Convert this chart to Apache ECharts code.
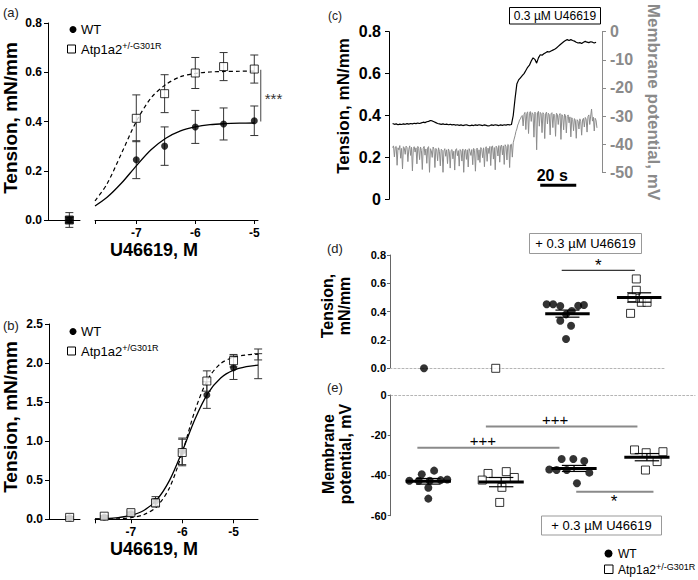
<!DOCTYPE html>
<html><head><meta charset="utf-8">
<script src="https://cdn.jsdelivr.net/npm/echarts@6/dist/echarts.min.js"></script>
<style>html,body{margin:0;padding:0;background:#fff}#chart{width:698px;height:580px}</style>
</head><body><div id="chart"></div>
<script>
// ===================== DATA =====================
// Panel (a): low-dose dose–response (log M)
const aDoseLog = [-7, -6.52, -6, -5.52, -5];
const aWTMean  = [0.245, 0.30, 0.378, 0.39, 0.403];
const aWTErr   = [0.077, 0.078, 0.067, 0.065, 0.06];
const aMutMean = [0.413, 0.513, 0.597, 0.623, 0.613];
const aMutErr  = [0.095, 0.077, 0.063, 0.057, 0.057];
const aCtrlWT  = [0.0, 0.01];   // mean, error (no agonist)
const aCtrlMut = [0.0, 0.03];
const aFitX    = [-7.7, -7.5, -7.25, -7, -6.75, -6.5, -6.25, -6, -5.75, -5.5, -5.25, -5];
const aFitWT   = [0.057, 0.091, 0.150, 0.220, 0.285, 0.332, 0.362, 0.378, 0.387, 0.391, 0.393, 0.394];
const aFitMut  = [0.078, 0.145, 0.271, 0.40, 0.496, 0.55, 0.582, 0.595, 0.601, 0.603, 0.604, 0.605];
const aSig     = [-4.89, 0.61, 0.40, '***'];

// Panel (b): full dose–response
const bDoseLog = [-7.52, -7, -6.52, -6, -5.52, -5, -4.52];
const bWTMean  = [0.03, 0.07, 0.23, 0.87, 1.59, 1.94, 1.96];
const bWTErr   = [0.01, 0.02, 0.06, 0.17, 0.17, 0.15, 0.16];
const bMutMean = [0.04, 0.085, 0.21, 0.855, 1.77, 2.03, 2.11];
const bMutErr  = [0.01, 0.02, 0.05, 0.17, 0.13, 0.08, 0.07];
const bCtrlWT  = [0.02, 0.01];
const bCtrlMut = [0.025, 0.01];
const bFitX    = [-7.7, -7.5, -7.25, -7, -6.75, -6.5, -6.25, -6, -5.75, -5.5, -5.25, -5, -4.75, -4.52];
const bFitWT   = [0.005, 0.009, 0.022, 0.05, 0.113, 0.246, 0.495, 0.87, 1.285, 1.612, 1.809, 1.909, 1.955, 1.974];
const bFitMut  = [0.001, 0.003, 0.007, 0.021, 0.059, 0.16, 0.40, 0.85, 1.395, 1.794, 1.994, 2.074, 2.104, 2.114];

// Panel (c): recordings (tension every 1 s, membrane potential every 0.5 s)
const cTensionStepSec = 1;
const cTension = [
  0.362,0.358,0.360,0.356,0.359,0.357,0.360,0.358,0.361,0.359,
  0.362,0.360,0.363,0.361,0.364,0.362,0.365,0.368,0.366,0.370,
  0.372,0.376,0.374,0.370,0.366,0.362,0.360,0.358,0.360,0.357,
  0.359,0.356,0.358,0.355,0.357,0.354,0.356,0.353,0.355,0.352,
  0.354,0.356,0.353,0.351,0.354,0.352,0.355,0.353,0.356,0.354,
  0.352,0.355,0.353,0.350,0.352,0.355,0.353,0.356,0.354,0.352,
  0.355,0.353,0.356,0.354,0.357,0.355,0.357,
  0.40,0.48,0.55,0.57,0.58,0.59,0.60,0.615,0.63,0.64,
  0.66,0.675,0.668,0.65,0.675,0.69,0.688,0.695,0.70,0.705,
  0.703,0.708,0.712,0.716,0.722,0.73,0.738,0.745,0.752,0.758,
  0.762,0.758,0.762,0.758,0.755,0.75,0.746,0.748,0.744,0.75,
  0.754,0.75,0.748,0.752,0.75,0.746,0.75];
const cVmStepSec = 0.5;
const cVm = [
  -41.2,-40.6,-44.5,-41.0,-40.8,-47.5,-41.3,-42.0,-40.5,-45.0,
  -41.5,-48.8,-40.9,-41.4,-43.6,-40.7,-41.2,-46.2,-41.8,-40.6,
  -44.0,-41.1,-49.5,-41.6,-40.9,-42.8,-41.3,-47.0,-40.8,-41.5,
  -45.5,-41.0,-42.2,-49.0,-41.4,-40.8,-43.9,-41.7,-46.8,-41.2,
  -40.9,-50.0,-41.6,-42.3,-44.7,-41.0,-41.8,-48.3,-41.5,-42.0,
  -45.9,-41.3,-42.5,-47.7,-41.8,-42.1,-50.0,-42.4,-41.6,-44.3,
  -42.0,-46.9,-41.7,-42.6,-48.5,-42.2,-41.9,-45.2,-42.5,-49.2,
  -42.0,-41.6,-44.1,-42.3,-47.8,-41.9,-42.4,-46.0,-41.7,-50.0,
  -42.3,-41.8,-45.4,-42.0,-48.1,-41.6,-42.6,-44.0,-41.9,-47.3,
  -41.5,-42.2,-49.6,-41.8,-41.4,-45.7,-42.0,-46.5,-41.2,-41.9,
  -44.8,-41.3,-48.0,-41.6,-40.9,-46.1,-41.4,-43.3,-40.8,-47.6,
  -41.0,-40.6,-45.3,-41.2,-49.1,-40.7,-41.3,-44.2,-40.5,-46.4,
  -40.8,-40.3,-43.8,-40.6,-47.2,-40.2,-40.9,-45.6,-40.1,-40.4,
  -48.3,-40.2,-40.0,-44.6,
  -39.5,-38.2,-37.0,-35.5,-34.6,-33.2,-32.5,-31.4,-31.0,-30.2,-29.8,-33.5,
  -29.4,-28.7,-34.8,-29.1,-28.5,-36.2,-29.0,-28.4,-31.9,-28.8,
  -29.3,-37.5,-28.6,-29.0,-42.0,-28.9,-28.3,-33.6,-28.7,-29.2,
  -35.9,-28.8,-29.4,-38.0,-29.1,-28.6,-32.8,-29.0,-29.5,-36.7,
  -29.2,-28.8,-34.1,-29.3,-29.7,-37.2,-29.0,-29.4,-33.0,-29.8,
  -29.1,-38.3,-29.5,-30.0,-34.9,-29.3,-29.8,-36.0,-30.1,-29.6,
  -32.4,-30.3,-37.4,-30.6,-31.2,-35.2,-30.9,-31.5,-37.9,-31.3,
  -31.8,-34.6,-31.0,-32.0,-36.8,-31.4,-30.8,-33.9,-30.5,-31.1,
  -35.7,-30.2,-29.6,-33.0,-30.0,-27.5,-31.8,-30.4,-35.3,-30.8,
  -31.5,-34.2];
const cScaleBar = [82, 20];   // start (s), length (s)

// Groups for (d) and (e)
const groups = ['WT', 'Atp1a2+/-G301R', 'WT + U46619', 'Atp1a2+/-G301R + U46619'];

// Panel (d): tension
const dWTCtrl = [0.0];
const dMutCtrl = [0.0];
const dWTU = [0.452, 0.452, 0.44, 0.381, 0.405, 0.442, 0.447, 0.336, 0.301, 0.207];
const dWTUJitter = [-0.29, -0.20, -0.10, -0.02, 0.06, 0.15, 0.23, -0.10, 0.05, -0.02];
const dMutU = [0.631, 0.551, 0.499, 0.466, 0.466, 0.388];
const dMutUJitter = [-0.04, -0.04, -0.10, 0.03, 0.11, -0.12];
const dMeanSem = [[2, 0.386, 0.025], [3, 0.50, 0.033]];
const dSig = [[1.92, 2.94, 0.692, 2.43, '*', 'above']];

// Panel (e): membrane potential
const eWTCtrl = [-42.6, -42.6, -39.4, -37.6, -46.1, -42.6, -42.3, -42.0, -51.5];
const eWTCtrlJitter = [-0.26, -0.13, -0.09, 0.08, 0, 0.02, 0.17, 0.26, 0];
const eMutCtrl = [-39, -38.1, -42.3, -41, -45.9, -53.4];
const eMutCtrlJitter = [-0.18, 0.07, -0.26, 0.18, 0.01, -0.02];
const eWTU = [-37, -37.3, -31.8, -31.8, -32.8, -37.3, -38.6, -43.9];
const eWTUJitter = [-0.34, -0.24, -0.17, -0.01, 0.14, -0.10, 0.21, 0.04];
const eMutU = [-27.3, -28.7, -28.2, -33.1, -37.3];
const eMutUJitter = [-0.17, -0.01, 0.22, 0.14, -0.02];
const eMeanSem = [[0, -42.9, 1.4], [1, -43.3, 2.3], [2, -36.5, 1.5], [3, -30.9, 1.8]];
const eSig = [[-0.15, 1.80, -26.2, 0.75, '+++', 'above'],
              [0.79, 2.87, -15.7, 1.74, '+++', 'above'],
              [2.03, 3.09, -48.1, 2.55, '*', 'below']];

// ===================== CHART =====================
const FONT = '"Liberation Sans", Arial, Helvetica, sans-serif';
const chart = echarts.init(document.getElementById('chart'), null, {renderer: 'svg', width: 698, height: 580});

function errRender(color, cap) {
  return function (params, api) {
    const x = api.value(0), y = api.value(1), e = api.value(2);
    const t = api.coord([x, y + e]), b = api.coord([x, y - e]);
    const st = {stroke: color, lineWidth: 1};
    return {type: 'group', children: [
      {type: 'line', shape: {x1: t[0], y1: t[1], x2: b[0], y2: b[1]}, style: st},
      {type: 'line', shape: {x1: t[0] - cap, y1: t[1], x2: t[0] + cap, y2: t[1]}, style: st},
      {type: 'line', shape: {x1: b[0] - cap, y1: b[1], x2: b[0] + cap, y2: b[1]}, style: st}
    ]};
  };
}
function meanRender(params, api) {
  const g = api.value(0), m = api.value(1), s = api.value(2);
  const l = api.coord([g - 0.31, m]), r = api.coord([g + 0.31, m]);
  const t = api.coord([g, m + s]), b = api.coord([g, m - s]);
  const cw = (r[0] - l[0]) * 0.27;
  const st = {stroke: '#000', lineWidth: 1.2};
  return {type: 'group', children: [
    {type: 'line', shape: {x1: t[0], y1: t[1], x2: b[0], y2: b[1]}, style: st},
    {type: 'line', shape: {x1: t[0] - cw, y1: t[1], x2: t[0] + cw, y2: t[1]}, style: st},
    {type: 'line', shape: {x1: b[0] - cw, y1: b[1], x2: b[0] + cw, y2: b[1]}, style: st},
    {type: 'line', shape: {x1: l[0], y1: l[1], x2: r[0], y2: r[1]}, style: {stroke: '#000', lineWidth: 3}}
  ]};
}
function sigRender(list, color, width, fs) {
  return function (params, api) {
    const a = list[params.dataIndex];
    const p1 = api.coord([a[0], a[2]]), p2 = api.coord([a[1], a[2]]);
    const pl = api.coord([a[3], a[2]]);
    const above = a[5] === 'above';
    const isStar = a[4] === '*';
    const ty = above ? (isStar ? p1[1] - 5 : p1[1] - 7) : p1[1] + 10;
    return {type: 'group', children: [
      {type: 'line', shape: {x1: p1[0], y1: p1[1], x2: p2[0], y2: p2[1]}, style: {stroke: color, lineWidth: width}},
      {type: 'text', x: pl[0], y: ty, style: {text: a[4], fontSize: isStar ? 17 : fs, fontFamily: FONT, fill: '#000', align: 'center', verticalAlign: 'middle'}}
    ]};
  };
}
function jit(vals, g, jitter) { return vals.map((v, i) => [g + (jitter ? jitter[i] : 0), v]); }

const axBlack = {color: '#000', width: 1};
const lblBold = (fs, extra) => Object.assign({fontSize: fs, fontWeight: 'bold', color: '#000', fontFamily: FONT}, extra || {});
const fix1 = v => v.toFixed(1);
const sqStyle = {color: '#fff', borderColor: '#000', borderWidth: 1};
const yLine = (c) => ({show: true, onZero: false, lineStyle: {color: c, width: 1}});

const option = {
  animation: false,
  backgroundColor: '#fff',
  textStyle: {fontFamily: FONT},
  grid: [
    {left: 48, top: 23, width: 32, height: 197},      // a-left
    {left: 95, top: 23, width: 163, height: 197},     // a-right
    {left: 49, top: 324, width: 31, height: 195.3},   // b-left
    {left: 95, top: 324, width: 163, height: 195.3},  // b-right
    {left: 389, top: 31.7, width: 213, height: 167.6},// c tension
    {left: 389, top: 31.7, width: 213, height: 140.6},// c Vm
    {left: 390, top: 255, width: 275, height: 113.3}, // d
    {left: 390.7, top: 395, width: 304.3, height: 120.7} // e
  ],
  xAxis: [
    {gridIndex: 0, type: 'value', min: -0.4, max: 0.2, axisLine: {onZero: false, lineStyle: axBlack}, axisTick: {show: false}, axisLabel: {show: false}, splitLine: {show: false}},
    {gridIndex: 1, type: 'value', min: -7.7, max: -4.937, axisLine: {onZero: false, lineStyle: axBlack},
      axisTick: {length: 4, lineStyle: axBlack, customValues: [-7.7, -7, -6, -5]},
      axisLabel: lblBold(12, {margin: 7, customValues: [-7, -6, -5]}), splitLine: {show: false}},
    {gridIndex: 2, type: 'value', min: -0.4, max: 0.2, axisLine: {onZero: false, lineStyle: axBlack}, axisTick: {show: false}, axisLabel: {show: false}, splitLine: {show: false}},
    {gridIndex: 3, type: 'value', min: -7.7, max: -4.523, axisLine: {onZero: false, lineStyle: axBlack},
      axisTick: {length: 4, lineStyle: axBlack, customValues: [-7.7, -7, -6, -5]},
      axisLabel: lblBold(12, {margin: 7, customValues: [-7, -6, -5]}), splitLine: {show: false}},
    {gridIndex: 4, type: 'value', min: -2, max: 116.3, show: false},
    {gridIndex: 5, type: 'value', min: -2, max: 116.3, show: false},
    {gridIndex: 6, type: 'value', min: -0.474, max: 3.36, axisLine: {onZero: false, lineStyle: {color: '#b5b5b5', type: [2, 2], width: 1}}, axisTick: {show: false}, axisLabel: {show: false}, splitLine: {show: false}},
    {gridIndex: 7, type: 'value', min: -0.516, max: 3.66, position: 'top', axisLine: {onZero: false, lineStyle: {color: '#b5b5b5', type: [2, 2], width: 1}}, axisTick: {show: false}, axisLabel: {show: false}, splitLine: {show: false}}
  ],
  yAxis: [
    {gridIndex: 0, type: 'value', min: 0, max: 0.8, interval: 0.2, axisLine: yLine('#000'), axisTick: {show: true, length: 4, lineStyle: axBlack}, axisLabel: lblBold(12, {margin: 6, formatter: fix1}), splitLine: {show: false}},
    {gridIndex: 1, type: 'value', min: 0, max: 0.8, show: false},
    {gridIndex: 2, type: 'value', min: 0, max: 2.5, interval: 0.5, axisLine: yLine('#000'), axisTick: {show: true, length: 4, lineStyle: axBlack}, axisLabel: lblBold(12, {margin: 6, formatter: fix1}), splitLine: {show: false}},
    {gridIndex: 3, type: 'value', min: 0, max: 2.5, show: false},
    {gridIndex: 4, type: 'value', min: 0, max: 0.8, interval: 0.2, axisLine: yLine('#000'), axisTick: {show: true, length: 4, lineStyle: axBlack}, axisLabel: lblBold(16, {margin: 8}), splitLine: {show: false}},
    {gridIndex: 5, type: 'value', position: 'right', min: -50, max: 0, interval: 10, axisLine: yLine('#8a8a8a'), axisTick: {show: true, length: 4, lineStyle: {color: '#8a8a8a'}}, axisLabel: lblBold(16, {margin: 8, color: '#8a8a8a'}), splitLine: {show: false}},
    {gridIndex: 6, type: 'value', min: 0, max: 0.8, interval: 0.2, axisLine: yLine('#666'), axisTick: {show: true, length: 3, lineStyle: {color: '#666'}}, axisLabel: lblBold(11, {margin: 4, formatter: fix1}), splitLine: {show: false}},
    {gridIndex: 7, type: 'value', min: -60, max: 0, interval: 20, axisLine: yLine('#666'), axisTick: {show: true, length: 3, lineStyle: {color: '#666'}}, axisLabel: lblBold(11, {margin: 4}), splitLine: {show: false}}
  ],
  series: [
    // ---------- (a) ----------
    {type: 'custom', xAxisIndex: 1, yAxisIndex: 1, z: 1, renderItem: errRender('#333', 4), data: aDoseLog.map((x, i) => [x, aWTMean[i], aWTErr[i]])},
    {type: 'custom', xAxisIndex: 1, yAxisIndex: 1, z: 1, renderItem: errRender('#333', 4), data: aDoseLog.map((x, i) => [x, aMutMean[i], aMutErr[i]])},
    {type: 'custom', xAxisIndex: 0, yAxisIndex: 0, z: 1, renderItem: errRender('#333', 4), data: [[0, aCtrlWT[0], aCtrlWT[1]], [0, aCtrlMut[0], aCtrlMut[1]]]},
    {type: 'line', xAxisIndex: 1, yAxisIndex: 1, z: 2, smooth: 0.3, showSymbol: false, symbol: 'none', lineStyle: {color: '#000', width: 1.3}, data: aFitX.map((x, i) => [x, aFitWT[i]])},
    {type: 'line', xAxisIndex: 1, yAxisIndex: 1, z: 2, smooth: 0.3, showSymbol: false, symbol: 'none', lineStyle: {color: '#000', width: 1.2, type: [4, 3]}, data: aFitX.map((x, i) => [x, aFitMut[i]])},
    {type: 'scatter', xAxisIndex: 1, yAxisIndex: 1, z: 3, symbol: 'rect', symbolSize: 8, itemStyle: sqStyle, data: aDoseLog.map((x, i) => [x, aMutMean[i]])},
    {type: 'scatter', xAxisIndex: 1, yAxisIndex: 1, z: 4, symbol: 'circle', symbolSize: 7, itemStyle: {color: '#000'}, data: aDoseLog.map((x, i) => [x, aWTMean[i]])},
    {type: 'scatter', xAxisIndex: 0, yAxisIndex: 0, z: 3, symbol: 'rect', symbolSize: 8, itemStyle: {color: '#000', borderColor: '#000', borderWidth: 1}, data: [[0, aCtrlMut[0]]]},
    {type: 'scatter', xAxisIndex: 0, yAxisIndex: 0, z: 4, symbol: 'circle', symbolSize: 7, itemStyle: {color: '#000'}, data: [[0, aCtrlWT[0]]]},
    {type: 'custom', xAxisIndex: 1, yAxisIndex: 1, z: 5, clip: false, data: [[aSig[0], aSig[1]]],
      renderItem: function (params, api) {
        const t = api.coord([aSig[0], aSig[1]]), b = api.coord([aSig[0], aSig[2]]);
        return {type: 'group', children: [
          {type: 'line', shape: {x1: t[0], y1: t[1], x2: b[0], y2: b[1]}, style: {stroke: '#444', lineWidth: 1}},
          {type: 'text', x: t[0] + 4, y: (t[1] + b[1]) / 2 + 3, style: {text: aSig[3], fontSize: 15, fontFamily: FONT, fill: '#333', align: 'left', verticalAlign: 'middle'}}
        ]};
      }},
    // ---------- (b) ----------
    {type: 'custom', xAxisIndex: 3, yAxisIndex: 3, z: 1, renderItem: errRender('#333', 4), data: bDoseLog.map((x, i) => [x, bWTMean[i], bWTErr[i]])},
    {type: 'custom', xAxisIndex: 3, yAxisIndex: 3, z: 1, renderItem: errRender('#333', 4), data: bDoseLog.map((x, i) => [x, bMutMean[i], bMutErr[i]])},
    {type: 'custom', xAxisIndex: 2, yAxisIndex: 2, z: 1, renderItem: errRender('#333', 4), data: [[0, bCtrlWT[0], bCtrlWT[1]], [0, bCtrlMut[0], bCtrlMut[1]]]},
    {type: 'line', xAxisIndex: 3, yAxisIndex: 3, z: 2, smooth: 0.3, showSymbol: false, symbol: 'none', lineStyle: {color: '#000', width: 1.3}, data: bFitX.map((x, i) => [x, bFitWT[i]])},
    {type: 'line', xAxisIndex: 3, yAxisIndex: 3, z: 2, smooth: 0.3, showSymbol: false, symbol: 'none', lineStyle: {color: '#000', width: 1.2, type: [4, 3]}, data: bFitX.map((x, i) => [x, bFitMut[i]])},
    {type: 'scatter', xAxisIndex: 3, yAxisIndex: 3, z: 3, symbol: 'circle', symbolSize: 7, itemStyle: {color: '#000'}, data: bDoseLog.map((x, i) => [x, bWTMean[i]])},
    {type: 'scatter', xAxisIndex: 3, yAxisIndex: 3, z: 4, symbol: 'rect', symbolSize: 8, itemStyle: sqStyle, data: bDoseLog.map((x, i) => [x, bMutMean[i]])},
    {type: 'scatter', xAxisIndex: 2, yAxisIndex: 2, z: 3, symbol: 'circle', symbolSize: 7, itemStyle: {color: '#000'}, data: [[0, bCtrlWT[0]]]},
    {type: 'scatter', xAxisIndex: 2, yAxisIndex: 2, z: 4, symbol: 'rect', symbolSize: 8, itemStyle: sqStyle, data: [[0, bCtrlMut[0]]]},
    // ---------- (c) ----------
    {type: 'line', xAxisIndex: 5, yAxisIndex: 5, z: 2, symbol: 'none', clip: false, lineStyle: {color: '#8c8c8c', width: 1}, data: cVm.map((v, i) => [i * cVmStepSec, v])},
    {type: 'line', xAxisIndex: 4, yAxisIndex: 4, z: 3, symbol: 'none', lineStyle: {color: '#000', width: 1.2}, data: cTension.map((v, i) => [i * cTensionStepSec, v])},
    {type: 'custom', xAxisIndex: 4, yAxisIndex: 4, z: 4, clip: false, data: [[cScaleBar[0], 0]],
      renderItem: function (params, api) {
        const p1 = api.coord([cScaleBar[0], 0]), p2 = api.coord([cScaleBar[0] + cScaleBar[1], 0]);
        const y = p1[1] - 14;
        return {type: 'group', children: [
          {type: 'line', shape: {x1: p1[0], y1: y, x2: p2[0], y2: y}, style: {stroke: '#000', lineWidth: 3}},
          {type: 'text', x: (p1[0] + p2[0]) / 2 - 6, y: y - 10, style: {text: cScaleBar[1] + ' s', fontSize: 16, fontWeight: 'bold', fontFamily: FONT, fill: '#000', align: 'center', verticalAlign: 'middle'}}
        ]};
      }},
    // ---------- (d) ----------
    {type: 'scatter', xAxisIndex: 6, yAxisIndex: 6, z: 3, symbol: 'circle', symbolSize: 8, itemStyle: {color: '#000'}, data: jit(dWTCtrl, 0).concat(jit(dWTU, 2, dWTUJitter))},
    {type: 'scatter', xAxisIndex: 6, yAxisIndex: 6, z: 3, symbol: 'rect', symbolSize: 8, itemStyle: sqStyle, data: jit(dMutCtrl, 1).concat(jit(dMutU, 3, dMutUJitter))},
    {type: 'custom', xAxisIndex: 6, yAxisIndex: 6, z: 4, renderItem: meanRender, data: dMeanSem},
    {type: 'custom', xAxisIndex: 6, yAxisIndex: 6, z: 4, clip: false, renderItem: sigRender(dSig, '#000', 1, 15), data: dSig.map(a => [a[0], a[2]])},
    // ---------- (e) ----------
    {type: 'scatter', xAxisIndex: 7, yAxisIndex: 7, z: 3, symbol: 'circle', symbolSize: 8, itemStyle: {color: '#000'}, data: jit(eWTCtrl, 0, eWTCtrlJitter).concat(jit(eWTU, 2, eWTUJitter))},
    {type: 'scatter', xAxisIndex: 7, yAxisIndex: 7, z: 3, symbol: 'rect', symbolSize: 8, itemStyle: sqStyle, data: jit(eMutCtrl, 1, eMutCtrlJitter).concat(jit(eMutU, 3, eMutUJitter))},
    {type: 'custom', xAxisIndex: 7, yAxisIndex: 7, z: 4, renderItem: meanRender, data: eMeanSem},
    {type: 'custom', xAxisIndex: 7, yAxisIndex: 7, z: 4, clip: false, renderItem: sigRender(eSig, '#8a8a8a', 2, 15), data: eSig.map(a => [a[0], a[2]])}
  ],
  graphic: {elements: [
    // panel letters
    {type: 'text', x: 3, y: 12, style: {text: '(a)', fontSize: 13, fontFamily: FONT, fill: '#222', verticalAlign: 'middle'}},
    {type: 'text', x: 3, y: 325, style: {text: '(b)', fontSize: 13, fontFamily: FONT, fill: '#222', verticalAlign: 'middle'}},
    {type: 'text', x: 328, y: 16, style: {text: '(c)', fontSize: 12, fontFamily: FONT, fill: '#222', verticalAlign: 'middle'}},
    {type: 'text', x: 327, y: 248, style: {text: '(d)', fontSize: 13, fontFamily: FONT, fill: '#222', verticalAlign: 'middle'}},
    {type: 'text', x: 327, y: 387, style: {text: '(e)', fontSize: 13, fontFamily: FONT, fill: '#222', verticalAlign: 'middle'}},
    // axis titles
    {type: 'text', x: 10, y: 118, rotation: Math.PI / 2, style: {text: 'Tension, mN/mm', fontSize: 19, fontWeight: 'bold', fontFamily: FONT, fill: '#000', align: 'center', verticalAlign: 'middle'}},
    {type: 'text', x: 154, y: 250, style: {text: 'U46619, M', fontSize: 18, lineHeight: 18, fontWeight: 'bold', fontFamily: FONT, fill: '#000', align: 'center', verticalAlign: 'middle'}},
    {type: 'text', x: 10, y: 417, rotation: Math.PI / 2, style: {text: 'Tension, mN/mm', fontSize: 19, fontWeight: 'bold', fontFamily: FONT, fill: '#000', align: 'center', verticalAlign: 'middle'}},
    {type: 'text', x: 154, y: 549, style: {text: 'U46619, M', fontSize: 18, lineHeight: 18, fontWeight: 'bold', fontFamily: FONT, fill: '#000', align: 'center', verticalAlign: 'middle'}},
    {type: 'text', x: 343, y: 106, rotation: Math.PI / 2, style: {text: 'Tension, mN/mm', fontSize: 17, fontWeight: 'bold', fontFamily: FONT, fill: '#000', align: 'center', verticalAlign: 'middle'}},
    {type: 'text', x: 653, y: 102, rotation: -Math.PI / 2, style: {text: 'Membrane potential, mV', fontSize: 17, fontWeight: 'bold', fontFamily: FONT, fill: '#8a8a8a', align: 'center', verticalAlign: 'middle'}},
    {type: 'text', x: 336, y: 306, rotation: Math.PI / 2, style: {text: 'Tension,\nmN/mm', fontSize: 16, lineHeight: 17, fontWeight: 'bold', fontFamily: FONT, fill: '#000', align: 'center', verticalAlign: 'middle'}},
    {type: 'text', x: 336.5, y: 454, rotation: Math.PI / 2, style: {text: 'Membrane\npotential, mV', fontSize: 16, lineHeight: 17, fontWeight: 'bold', fontFamily: FONT, fill: '#000', align: 'center', verticalAlign: 'middle'}},
    // legend (a)
    {type: 'circle', shape: {cx: 73, cy: 29.5, r: 3.5}, style: {fill: '#000'}},
    {type: 'text', x: 81, y: 29.5, style: {text: 'WT', fontSize: 13, fontFamily: FONT, fill: '#000', verticalAlign: 'middle'}},
    {type: 'rect', shape: {x: 67.5, y: 45, width: 8, height: 8}, style: {fill: '#fff', stroke: '#000', lineWidth: 1}},
    {type: 'text', x: 81, y: 49, style: {text: '{n|Atp1a2}{s|+/-G301R}', fontFamily: FONT, fill: '#000', verticalAlign: 'middle', rich: {n: {fontSize: 13, fontFamily: FONT, lineHeight: 16}, s: {fontSize: 9, fontFamily: FONT, verticalAlign: 'top', lineHeight: 10}}}},
    // legend (b)
    {type: 'circle', shape: {cx: 73, cy: 331.5, r: 3.5}, style: {fill: '#000'}},
    {type: 'text', x: 81, y: 331.5, style: {text: 'WT', fontSize: 13, fontFamily: FONT, fill: '#000', verticalAlign: 'middle'}},
    {type: 'rect', shape: {x: 67.5, y: 347, width: 8, height: 8}, style: {fill: '#fff', stroke: '#000', lineWidth: 1}},
    {type: 'text', x: 81, y: 351, style: {text: '{n|Atp1a2}{s|+/G301R}', fontFamily: FONT, fill: '#000', verticalAlign: 'middle', rich: {n: {fontSize: 13, fontFamily: FONT, lineHeight: 16}, s: {fontSize: 9, fontFamily: FONT, verticalAlign: 'top', lineHeight: 10}}}},
    // legend (e)
    {type: 'circle', shape: {cx: 608.5, cy: 553.5, r: 4}, style: {fill: '#000'}},
    {type: 'text', x: 618, y: 553.5, style: {text: 'WT', fontSize: 12, fontFamily: FONT, fill: '#000', verticalAlign: 'middle'}},
    {type: 'rect', shape: {x: 604.5, y: 565, width: 8.5, height: 8.5}, style: {fill: '#fff', stroke: '#000', lineWidth: 1}},
    {type: 'text', x: 618, y: 569.5, style: {text: '{n|Atp1a2}{s|+/-G301R}', fontFamily: FONT, fill: '#000', verticalAlign: 'middle', rich: {n: {fontSize: 12, fontFamily: FONT, lineHeight: 15}, s: {fontSize: 9, fontFamily: FONT, verticalAlign: 'top', lineHeight: 10}}}},
    // boxes
    {type: 'rect', shape: {x: 509.5, y: 7.5, width: 91, height: 16.5}, style: {fill: '#fff', stroke: '#000', lineWidth: 1}},
    {type: 'text', x: 555, y: 16, style: {text: '0.3 µM U46619', fontSize: 12, fontFamily: FONT, fill: '#000', align: 'center', verticalAlign: 'middle'}},
    {type: 'rect', shape: {x: 529.5, y: 233.5, width: 112, height: 20}, style: {fill: '#fff', stroke: '#999', lineWidth: 1}},
    {type: 'text', x: 585.5, y: 243.5, style: {text: '+ 0.3 µM U46619', fontSize: 13, fontFamily: FONT, fill: '#000', align: 'center', verticalAlign: 'middle'}},
    {type: 'rect', shape: {x: 541.5, y: 516, width: 120, height: 19}, style: {fill: '#fff', stroke: '#999', lineWidth: 1}},
    {type: 'text', x: 601.5, y: 525.5, style: {text: '+ 0.3 µM U46619', fontSize: 13, fontFamily: FONT, fill: '#000', align: 'center', verticalAlign: 'middle'}}
  ]}
};
chart.setOption(option);
</script>
</body></html>
